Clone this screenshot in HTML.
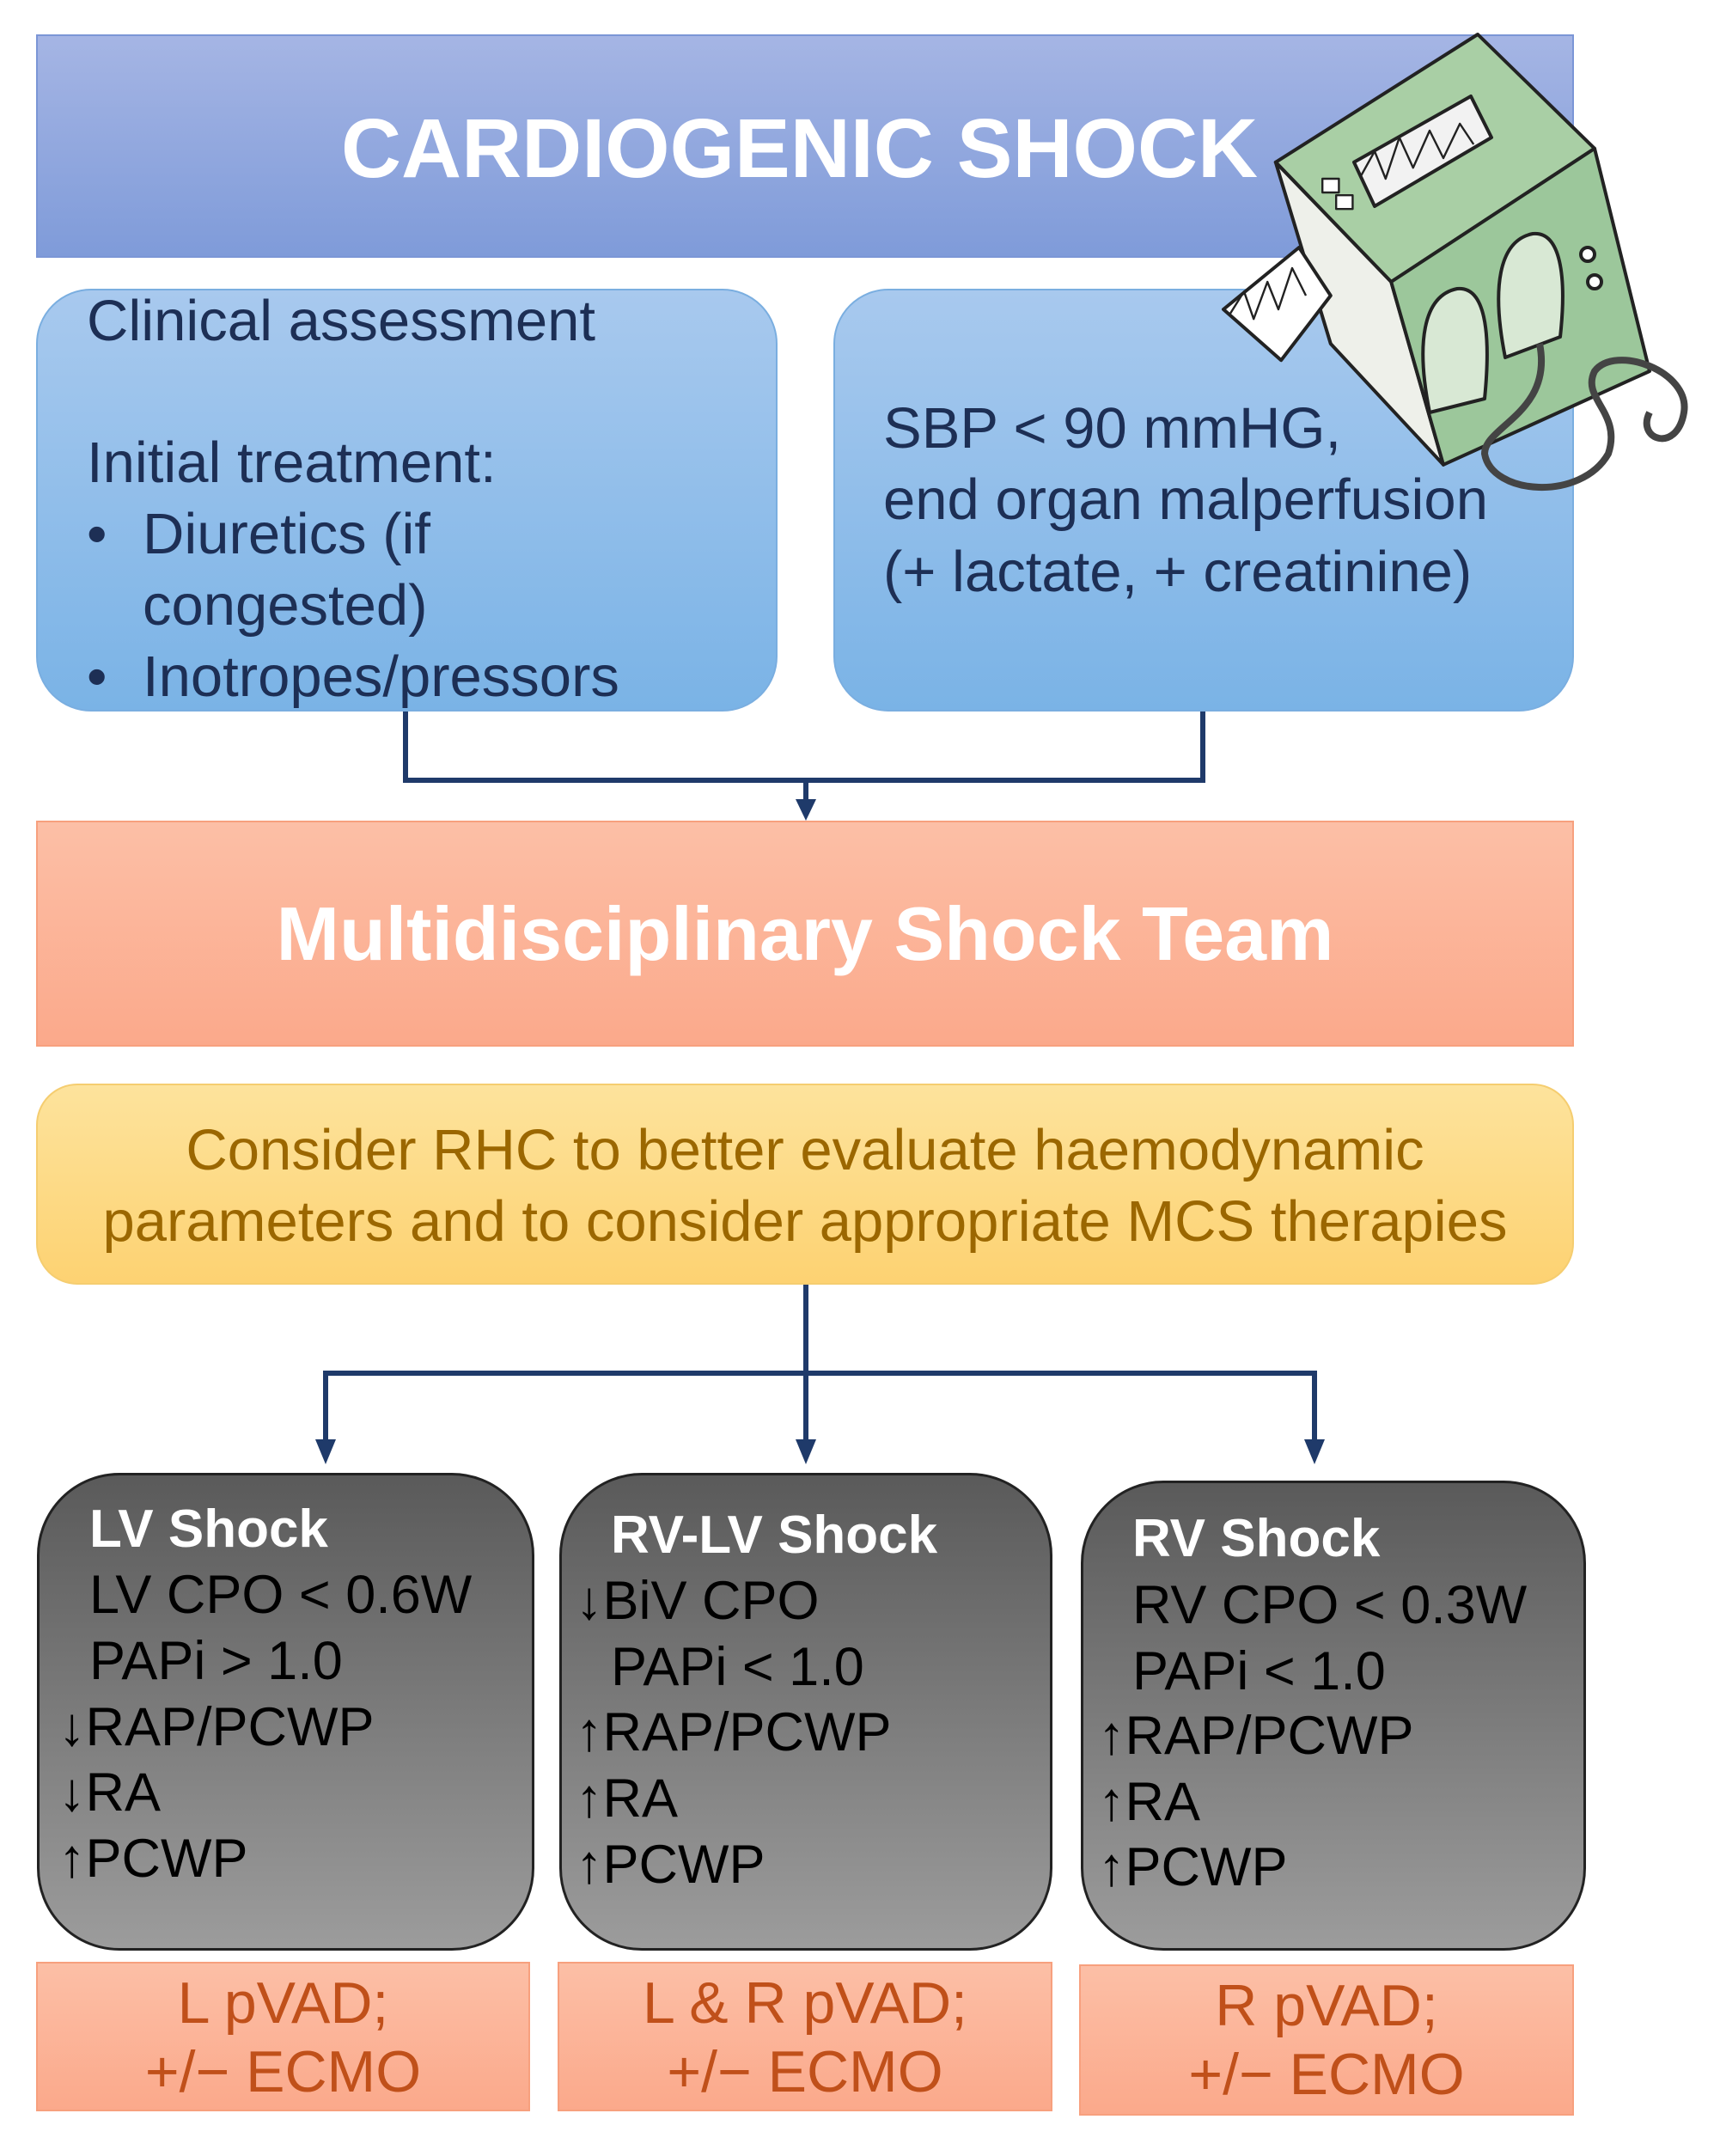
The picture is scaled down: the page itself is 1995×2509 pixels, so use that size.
<!DOCTYPE html>
<html><head><meta charset="utf-8">
<style>
body{margin:0;width:1995px;height:2509px;background:#fff;position:relative;overflow:hidden;font-family:"Liberation Sans",Arial,sans-serif}
.a{position:absolute}
.t{position:absolute;white-space:nowrap;line-height:1}
.blue{background:linear-gradient(#a8c9ee,#7ab3e6);border:2px solid #7aaee0;border-radius:64px;box-sizing:border-box}
.gray{background:linear-gradient(#5a5a5a,#9c9c9c);border:3px solid #222;border-radius:96px;box-sizing:border-box}
.or{background:linear-gradient(#fcbfa6,#fba98b);border:2px solid #f7a07e;box-sizing:border-box}
.gt{font-size:63px;color:#000}
.bt{font-size:67px;color:#1d2f55}
.ot{font-size:68px;color:#c0501a;width:100%;text-align:center}
</style></head><body>
<div class="a" style="left:42px;top:40px;width:1790px;height:260px;background:linear-gradient(#a5b5e4,#7f9bd9);border:2px solid #7b96d6;box-sizing:border-box"></div>
<div class="t" style="left:397px;top:124px;font-size:97px;font-weight:bold;color:#fff">CARDIOGENIC SHOCK</div>

<div class="a blue" style="left:42px;top:336px;width:863px;height:492px"></div>
<div class="a blue" style="left:970px;top:336px;width:862px;height:492px"></div>
<div class="t bt" style="left:101px;top:340px">Clinical assessment</div>
<div class="t bt" style="left:101px;top:505px">Initial treatment:</div>
<div class="t" style="left:101px;top:588px;font-size:67px;color:#1d2f55">•</div>
<div class="t bt" style="left:166px;top:588px">Diuretics (if</div>
<div class="t bt" style="left:166px;top:671px">congested)</div>
<div class="t" style="left:101px;top:754px;font-size:67px;color:#1d2f55">•</div>
<div class="t bt" style="left:166px;top:754px">Inotropes/pressors</div>
<div class="t bt" style="left:1028px;top:465px">SBP &lt; 90 mmHG,</div>
<div class="t bt" style="left:1028px;top:548px">end organ malperfusion</div>
<div class="t bt" style="left:1028px;top:632px">(+ lactate, + creatinine)</div>

<div class="a or" style="left:42px;top:955px;width:1790px;height:263px"></div>
<div class="t" style="left:0;width:1874px;text-align:center;top:1043px;font-size:88px;font-weight:bold;color:#fff">Multidisciplinary Shock Team</div>

<div class="a" style="left:42px;top:1261px;width:1790px;height:234px;background:linear-gradient(#fde39c,#fdd272);border:2px solid #f5cd70;border-radius:48px;box-sizing:border-box"></div>
<div class="t" style="left:0;width:1874px;text-align:center;top:1305px;font-size:67px;color:#9b6700">Consider RHC to better evaluate haemodynamic</div>
<div class="t" style="left:0;width:1874px;text-align:center;top:1388px;font-size:67px;color:#9b6700">parameters and to consider appropriate MCS therapies</div>

<svg class="a" style="left:0;top:0" width="1995" height="2509">
<g stroke="#1f3a6a" stroke-width="6" fill="none">
<polyline points="472,828 472,908 1400,908 1400,828"/>
<line x1="938" y1="908" x2="938" y2="935"/>
<line x1="938" y1="1495" x2="938" y2="1680"/>
<polyline points="379,1680 379,1598 1530,1598 1530,1680"/>
</g>
<g fill="#1f3a6a">
<polygon points="926,930 950,930 938,955"/>
<polygon points="367,1675 391,1675 379,1704"/>
<polygon points="926,1675 950,1675 938,1704"/>
<polygon points="1518,1675 1542,1675 1530,1704"/>
</g>
<g transform="scale(1.6)" stroke="#222" stroke-width="2.5" stroke-linejoin="round">
<polygon points="928,118 1075,25 1160,108 1012,205" fill="#a9cfa5"/>
<polygon points="928,118 1012,205 1050,338 968,250" fill="#eef0ea"/>
<polygon points="1012,205 1160,108 1200,270 1050,338" fill="#9cc79b"/>
<polygon points="985,118 1070,70 1085,100 1000,150" fill="#f2f2f2"/>
<polyline points="990,128 1000,110 1008,130 1018,100 1028,122 1040,95 1050,115 1062,90 1072,105" fill="none" stroke-width="1.5"/>
<rect x="962" y="130" width="12" height="10" fill="#fff" stroke-width="1.5"/>
<rect x="972" y="142" width="12" height="10" fill="#fff" stroke-width="1.5"/>
<path d="M1040,300 C1030,250 1035,215 1060,210 C1080,208 1085,240 1080,290 Z" fill="#d8e8d4"/>
<path d="M1095,260 C1085,210 1090,175 1115,170 C1135,168 1140,200 1135,245 Z" fill="#d8e8d4"/>
<circle cx="1155" cy="185" r="5" fill="#fff"/>
<circle cx="1160" cy="205" r="5" fill="#fff"/>
<polygon points="890,225 945,180 968,215 955,232 932,262" fill="#fff"/>
<polyline points="895,228 905,212 912,232 922,205 930,225 940,195 950,215" fill="none" stroke-width="1.5"/>
<path d="M1120,250 C1130,300 1080,310 1080,330 C1085,360 1150,365 1170,330 C1180,300 1150,290 1160,270 C1175,250 1230,270 1225,300 C1220,330 1190,320 1200,300" fill="none" stroke="#444" stroke-width="5"/>
</g>
</svg>

<div class="a gray" style="left:43px;top:1714px;width:579px;height:556px"></div>
<div class="a gray" style="left:651px;top:1714px;width:574px;height:556px"></div>
<div class="a gray" style="left:1258px;top:1723px;width:588px;height:547px"></div>

<div class="t" style="left:104px;top:1749px;font-size:62px;font-weight:bold;color:#fff">LV Shock</div>
<div class="t gt" style="left:104px;top:1825px">LV CPO &lt; 0.6W</div>
<div class="t gt" style="left:104px;top:1902px">PAPi &gt; 1.0</div>
<div class="t gt" style="left:68px;top:1979px">↓RAP/PCWP</div>
<div class="t gt" style="left:68px;top:2055px">↓RA</div>
<div class="t gt" style="left:68px;top:2132px">↑PCWP</div>

<div class="t" style="left:711px;top:1756px;font-size:62px;font-weight:bold;color:#fff">RV-LV Shock</div>
<div class="t gt" style="left:670px;top:1832px">↓BiV CPO</div>
<div class="t gt" style="left:711px;top:1909px">PAPi &lt; 1.0</div>
<div class="t gt" style="left:670px;top:1985px">↑RAP/PCWP</div>
<div class="t gt" style="left:670px;top:2062px">↑RA</div>
<div class="t gt" style="left:670px;top:2139px">↑PCWP</div>

<div class="t" style="left:1318px;top:1760px;font-size:62px;font-weight:bold;color:#fff">RV Shock</div>
<div class="t gt" style="left:1318px;top:1837px">RV CPO &lt; 0.3W</div>
<div class="t gt" style="left:1318px;top:1914px">PAPi &lt; 1.0</div>
<div class="t gt" style="left:1278px;top:1989px">↑RAP/PCWP</div>
<div class="t gt" style="left:1278px;top:2066px">↑RA</div>
<div class="t gt" style="left:1278px;top:2142px">↑PCWP</div>

<div class="a or" style="left:42px;top:2283px;width:575px;height:174px"><div class="t ot" style="top:12px">L pVAD;</div><div class="t ot" style="top:92px">+/− ECMO</div></div>
<div class="a or" style="left:649px;top:2283px;width:576px;height:174px"><div class="t ot" style="top:12px">L &amp; R pVAD;</div><div class="t ot" style="top:92px">+/− ECMO</div></div>
<div class="a or" style="left:1256px;top:2286px;width:576px;height:176px"><div class="t ot" style="top:12px">R pVAD;</div><div class="t ot" style="top:92px">+/− ECMO</div></div>
</body></html>
